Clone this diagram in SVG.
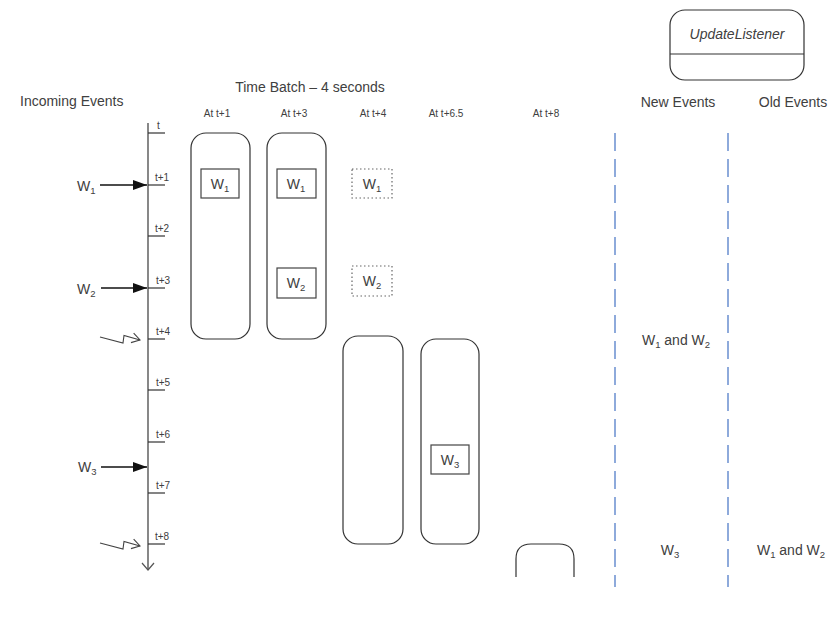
<svg xmlns="http://www.w3.org/2000/svg" width="840" height="625" viewBox="0 0 840 625">
<defs>
<style>
text{font-family:"Liberation Sans",Arial,sans-serif;fill:#404040}
.lbl{font-size:14px}
.at{font-size:10px;text-anchor:middle}
.tk{font-size:10px}
.sub{font-size:9.5px}
.box{fill:none;stroke:#333;stroke-width:1.2}
.ev{fill:#fff;stroke:#444;stroke-width:1.2}
.dot{fill:none;stroke:#666;stroke-width:1.2;stroke-dasharray:1.5 2.5}
.tick{stroke:#333;stroke-width:1.2}
.dash{stroke:#8eaadb;stroke-width:2;stroke-dasharray:18 8}
.c{text-anchor:middle}
</style>
<marker id="fill" viewBox="0 0 14 10" refX="14" refY="5" markerWidth="14" markerHeight="10" markerUnits="userSpaceOnUse" orient="auto">
<path d="M0,0 L14,5 L0,10 Z" fill="#111"/>
</marker>
<marker id="open" viewBox="0 0 10 12" refX="9" refY="6" markerWidth="10" markerHeight="12" markerUnits="userSpaceOnUse" orient="auto">
<path d="M1,1 L9,6 L1,11" fill="none" stroke="#444" stroke-width="1.1"/>
</marker>
</defs>
<rect width="840" height="625" fill="#fff"/>

<g id="titles">
<text class="lbl" x="20" y="106">Incoming Events</text>
<text class="lbl c" x="310" y="92">Time Batch – 4 seconds</text>
<text class="at" x="217" y="117">At t+1</text>
<text class="at" x="294" y="117">At t+3</text>
<text class="at" x="373" y="117">At t+4</text>
<text class="at" x="446" y="117">At t+6.5</text>
<text class="at" x="546" y="117">At t+8</text>
<text class="lbl c" x="678" y="107">New Events</text>
<text class="lbl c" x="793" y="107">Old Events</text>
</g>

<g id="timeline">
<line x1="148" y1="123" x2="148" y2="570" stroke="#555" stroke-width="1.4"/>
<path d="M142,563 L148,570 L154,563" fill="none" stroke="#555" stroke-width="1.2"/>
<line class="tick" x1="148" y1="133" x2="165" y2="133"/>
<line class="tick" x1="148" y1="185" x2="165" y2="185"/>
<line class="tick" x1="148" y1="236" x2="165" y2="236"/>
<line class="tick" x1="148" y1="288" x2="165" y2="288"/>
<line class="tick" x1="148" y1="339" x2="165" y2="339"/>
<line class="tick" x1="148" y1="390" x2="165" y2="390"/>
<line class="tick" x1="148" y1="442" x2="165" y2="442"/>
<line class="tick" x1="148" y1="493" x2="165" y2="493"/>
<line class="tick" x1="148" y1="544" x2="165" y2="544"/>
<text class="tk" x="157" y="129">t</text>
<text class="tk" x="155" y="181">t+1</text>
<text class="tk" x="155" y="232">t+2</text>
<text class="tk" x="156" y="284">t+3</text>
<text class="tk" x="156" y="335">t+4</text>
<text class="tk" x="156" y="386">t+5</text>
<text class="tk" x="156" y="438">t+6</text>
<text class="tk" x="156" y="489">t+7</text>
<text class="tk" x="155" y="540">t+8</text>
</g>

<g id="incoming">
<text class="lbl" x="77" y="191">W<tspan class="sub" dy="3">1</tspan></text>
<text class="lbl" x="77" y="294">W<tspan class="sub" dy="3">2</tspan></text>
<text class="lbl" x="78" y="472">W<tspan class="sub" dy="3">3</tspan></text>
</g>

<g id="batch-t1">
<rect class="box" x="191" y="133" width="59" height="206" rx="15"/>
<rect class="ev" x="201" y="169" width="38" height="29"/>
<text class="lbl c" x="220" y="189">W<tspan class="sub" dy="3">1</tspan></text>
</g>

<g id="batch-t3">
<rect class="box" x="267" y="133" width="59" height="206" rx="15"/>
<rect class="ev" x="277" y="169" width="39" height="29"/>
<text class="lbl c" x="296" y="189">W<tspan class="sub" dy="3">1</tspan></text>
<rect class="ev" x="277" y="268" width="39" height="30"/>
<text class="lbl c" x="296" y="288">W<tspan class="sub" dy="3">2</tspan></text>
</g>

<g id="expired-t4">
<rect class="dot" x="352" y="169" width="40" height="29"/>
<text class="lbl c" x="372" y="189">W<tspan class="sub" dy="3">1</tspan></text>
<rect class="dot" x="352" y="266" width="40" height="30"/>
<text class="lbl c" x="372" y="286">W<tspan class="sub" dy="3">2</tspan></text>
</g>

<g id="batch-t4">
<rect class="box" x="343" y="336" width="60" height="208" rx="15"/>
</g>

<g id="batch-t65">
<rect class="box" x="421" y="339" width="58" height="205" rx="15"/>
<rect class="ev" x="431" y="445" width="38" height="29"/>
<text class="lbl c" x="450" y="465">W<tspan class="sub" dy="3">3</tspan></text>
</g>

<g id="batch-t8">
<path class="box" d="M516,577 L516,559 Q516,544 531,544 L559,544 Q574,544 574,559 L574,577"/>
</g>

<g id="update-listener">
<rect class="box" x="670" y="10" width="134" height="70" rx="15"/>
<line x1="670" y1="54" x2="804" y2="54" stroke="#333" stroke-width="1.2"/>
<text class="lbl c" x="737" y="39" font-style="italic">UpdateListener</text>
</g>

<g id="columns">
<line class="dash" x1="615" y1="133" x2="615" y2="587"/>
<line class="dash" x1="728" y1="133" x2="728" y2="587"/>
<text class="lbl c" x="676" y="345">W<tspan class="sub" dy="3">1</tspan><tspan dy="-3"> and W</tspan><tspan class="sub" dy="3">2</tspan></text>
<text class="lbl c" x="670" y="555">W<tspan class="sub" dy="3">3</tspan></text>
<text class="lbl c" x="791" y="555">W<tspan class="sub" dy="3">1</tspan><tspan dy="-3"> and W</tspan><tspan class="sub" dy="3">2</tspan></text>
</g>

<g id="connectors" fill="none">
<line x1="100" y1="185" x2="147" y2="185" stroke="#111" stroke-width="1.4" marker-end="url(#fill)"/>
<line x1="101" y1="288" x2="147" y2="288" stroke="#111" stroke-width="1.4" marker-end="url(#fill)"/>
<line x1="101" y1="467" x2="147" y2="467" stroke="#111" stroke-width="1.4" marker-end="url(#fill)"/>
<path d="M100,337 L123,343 L124,335.5 L140,340" stroke="#444" stroke-width="1.1" marker-end="url(#open)"/>
<path d="M100,543 L123,549 L124,541.5 L140,546" stroke="#444" stroke-width="1.1" marker-end="url(#open)"/>
</g>
</svg>
